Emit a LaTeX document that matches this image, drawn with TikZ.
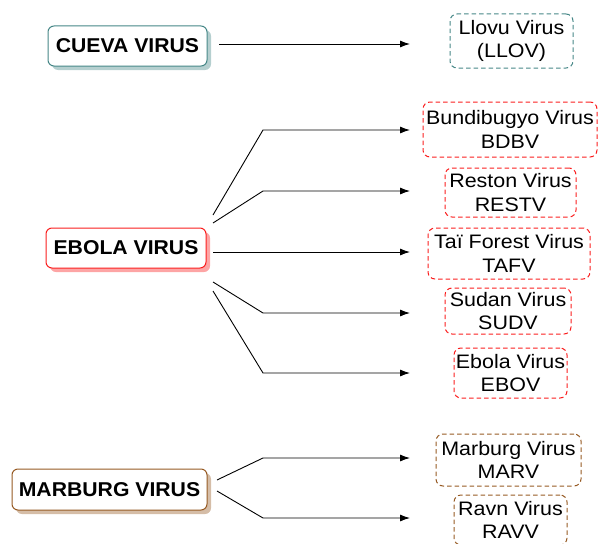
\documentclass[tikz,border=0pt]{standalone}
\usepackage{fontspec}
\setmainfont{Liberation Sans}
\newfontfamily\widefont[FakeStretch=1.1]{Liberation Sans}
\newfontfamily\boldwidefont[FakeStretch=1.06]{Liberation Sans Bold}
\usetikzlibrary{arrows.meta}
\definecolor{cteal}{RGB}{70,135,135}
\definecolor{cred}{RGB}{250,30,30}
\definecolor{cbrown}{RGB}{150,90,35}
\tikzset{
  mainbox/.style={draw=#1, fill=white, rounded corners=6pt, line width=1pt, inner sep=0pt,
     font=\boldwidefont\fontsize{20}{22}\selectfont, align=center},
  shadowbox/.style={fill=#1!40, rounded corners=6pt, inner sep=0pt},
  leafbox/.style={draw=#1, dashed, dash pattern=on 4.5pt off 3pt, rounded corners=7pt, line width=1pt, inner sep=0pt,
     font=\widefont\fontsize{19.5}{23.5}\selectfont, align=center},
  conn/.style={line width=0.9pt, -{Latex[length=10pt,width=7pt]}},
}
\begin{document}
\begin{tikzpicture}[x=1pt,y=-1pt]
\useasboundingbox (0,0) rectangle (599,543);
% shadows
\node[shadowbox=cteal, minimum width=159pt, minimum height=40pt] at (131.5,50) {};
\node[shadowbox=cred, minimum width=160pt, minimum height=40pt] at (130,252) {};
\node[shadowbox=cbrown, minimum width=195pt, minimum height=41pt] at (113.5,493.5) {};
% main boxes
\node[mainbox=cteal, minimum width=159pt, minimum height=40pt] (cueva) at (127.5,46) {CUEVA VIRUS};
\node[mainbox=cred, minimum width=160pt, minimum height=40pt] (ebola) at (126,248) {EBOLA VIRUS};
\node[mainbox=cbrown, minimum width=195pt, minimum height=41pt] (marburg) at (109.5,489.5) {MARBURG VIRUS};
% leaves
\node[leafbox=cteal, minimum width=123pt, minimum height=54pt] (llov) at (511.5,41) {Llovu Virus\\(LLOV)};
\node[leafbox=cred, minimum width=174pt, minimum height=55pt] (bdbv) at (510,129.5) {Bundibugyo Virus\\BDBV};
\node[leafbox=cred, minimum width=131pt, minimum height=49pt] (restv) at (510.5,192.5) {Reston Virus\\RESTV};
\node[leafbox=cred, minimum width=162pt, minimum height=51pt] (tafv) at (509,253.5) {Taï Forest Virus\\TAFV};
\node[leafbox=cred, minimum width=126pt, minimum height=46pt] (sudv) at (508,311) {Sudan Virus\\SUDV};
\node[leafbox=cred, minimum width=113pt, minimum height=50pt] (ebov) at (510.5,373) {Ebola Virus\\EBOV};
\node[leafbox=cbrown, minimum width=145pt, minimum height=52pt] (marv) at (508.5,460) {Marburg Virus\\MARV};
\node[leafbox=cbrown, minimum width=113pt, minimum height=50pt] (ravv) at (510.5,520) {Ravn Virus\\RAVV};
% connector points
\coordinate (c0s) at (219,44);
\coordinate (c0e) at (410,44);
\coordinate (s1) at (213,215); \coordinate (b1) at (263,130); \coordinate (e1) at (410,130);
\coordinate (s2) at (213,223); \coordinate (b2) at (263,191); \coordinate (e2) at (410,191);
\coordinate (s3) at (213,252); \coordinate (e3) at (410,252);
\coordinate (s4) at (213,282); \coordinate (b4) at (263,313); \coordinate (e4) at (410,313);
\coordinate (s5) at (213,291); \coordinate (b5) at (263,373); \coordinate (e5) at (410,373);
\coordinate (m1s) at (217,480); \coordinate (m1b) at (263,458); \coordinate (m1e) at (410,458);
\coordinate (m2s) at (217,491); \coordinate (m2b) at (263,518); \coordinate (m2e) at (410,518);
\draw[conn] (c0s) -- (c0e);
\draw[conn] (s1) -- (b1) -- (e1);
\draw[conn] (s2) -- (b2) -- (e2);
\draw[conn] (s3) -- (e3);
\draw[conn] (s4) -- (b4) -- (e4);
\draw[conn] (s5) -- (b5) -- (e5);
\draw[conn] (m1s) -- (m1b) -- (m1e);
\draw[conn] (m2s) -- (m2b) -- (m2e);
\end{tikzpicture}
\end{document}
